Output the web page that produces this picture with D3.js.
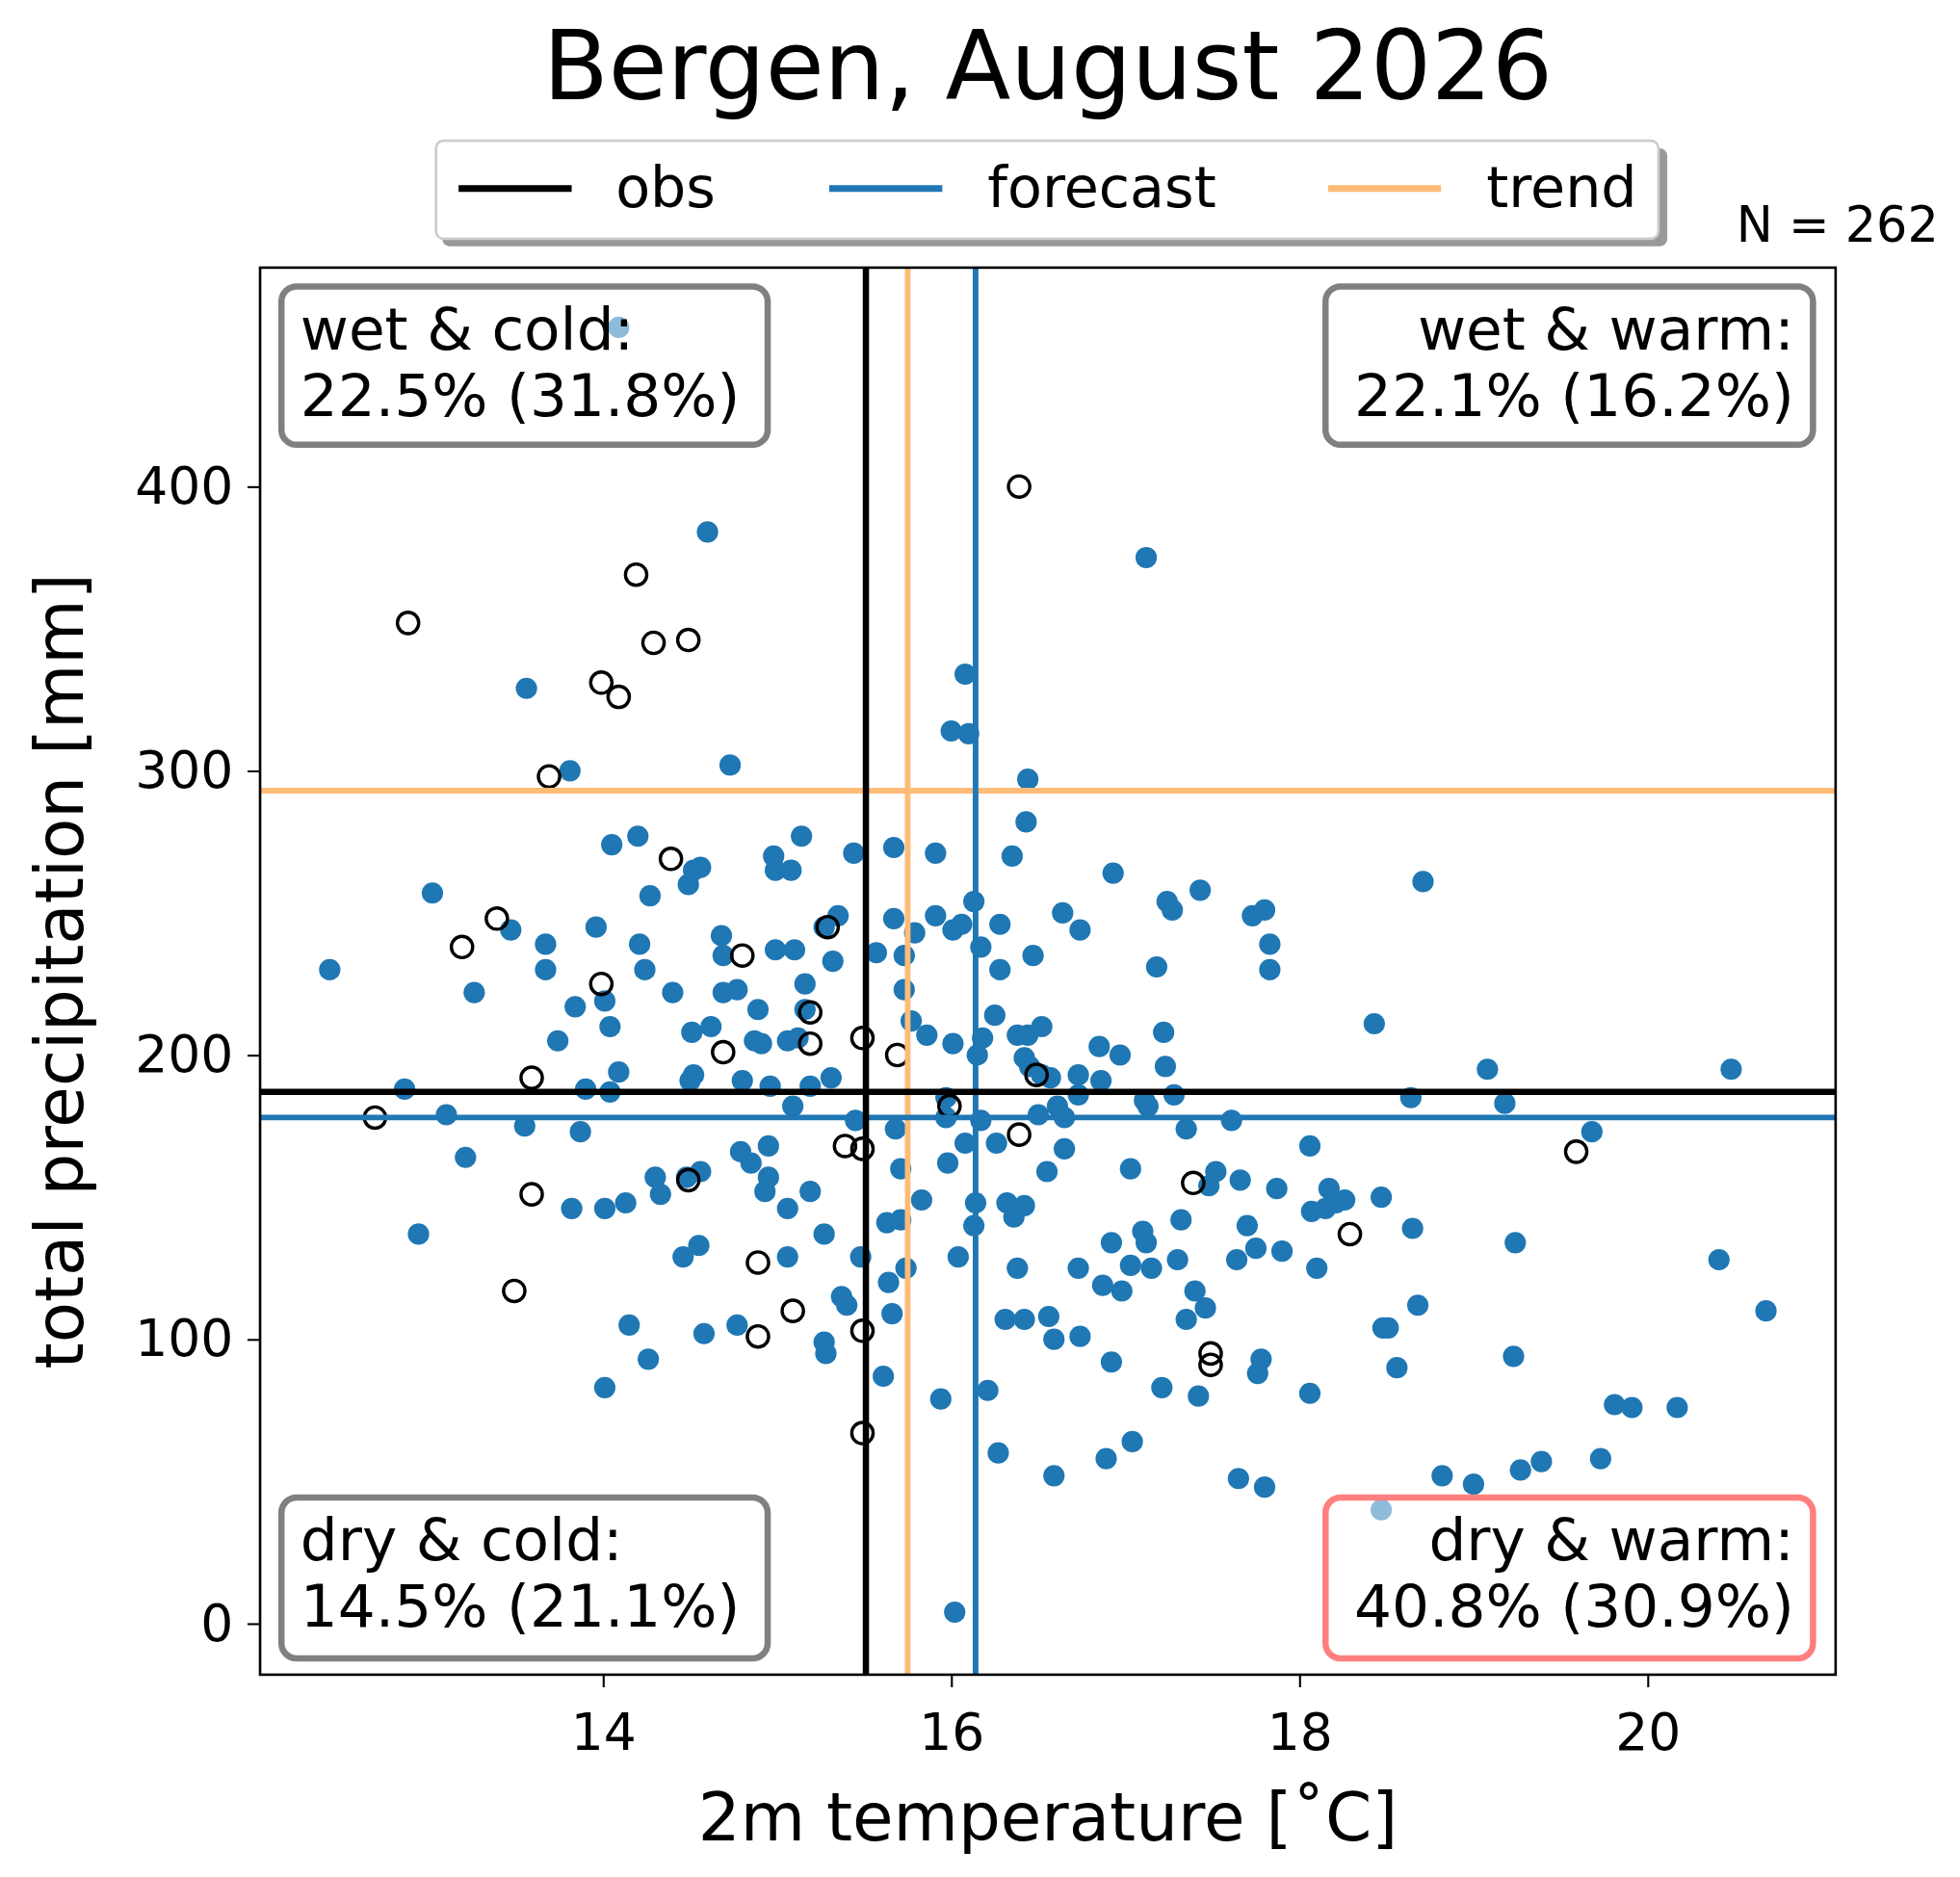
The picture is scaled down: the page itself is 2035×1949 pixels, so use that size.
<!DOCTYPE html>
<html><head><meta charset="utf-8">
<script src="https://cdn.jsdelivr.net/npm/d3@7"></script>
<style>body{margin:0;background:#fff}text{font-family:"DejaVu Sans",sans-serif}</style>
</head><body><svg id="c" width="2035" height="1949" viewBox="0 0 1560 1494"></svg>
<script>
const fcT=[12.43,12.86,12.94,13.02,13.10,13.21,13.26,13.47,13.55,13.56,13.67,13.67,13.74,13.81,13.82,13.84,13.87,13.90,13.96,14.01,14.01,14.01,14.04,14.04,14.05,14.09,14.13,14.15,14.20,14.21,14.24,14.27,14.26,14.30,14.33,14.40,14.48,14.46,14.49,14.51,14.50,14.52,14.52,14.56,14.56,14.55,14.58,14.60,14.62,14.68,14.69,14.69,14.73,14.77,14.77,14.79,14.80,14.85,14.87,14.89,14.91,14.93,14.95,14.95,14.96,14.98,14.99,14.99,15.06,15.06,15.06,15.08,15.09,15.10,15.12,15.14,15.16,15.16,15.19,15.19,15.27,15.27,15.27,15.28,15.31,15.32,15.35,15.37,15.40,15.44,15.45,15.48,15.57,15.61,15.63,15.64,15.66,15.67,15.67,15.68,15.71,15.71,15.73,15.73,15.74,15.77,15.79,15.83,15.86,15.91,15.91,15.94,15.97,15.97,15.98,16.00,16.01,16.01,16.02,16.04,16.06,16.08,16.08,16.10,16.13,16.13,16.14,16.15,16.17,16.17,16.18,16.21,16.25,16.26,16.27,16.28,16.28,16.31,16.32,16.35,16.36,16.38,16.38,16.42,16.42,16.42,16.43,16.44,16.44,16.45,16.47,16.50,16.52,16.52,16.55,16.56,16.57,16.59,16.59,16.61,16.64,16.65,16.65,16.73,16.74,16.74,16.73,16.73,16.85,16.86,16.87,16.89,16.92,16.92,16.93,16.97,16.98,17.03,17.03,17.04,17.12,17.10,17.11,17.12,17.13,17.15,17.18,17.21,17.22,17.23,17.24,17.27,17.28,17.30,17.32,17.35,17.35,17.40,17.42,17.43,17.46,17.48,17.52,17.61,17.65,17.64,17.66,17.70,17.73,17.75,17.76,17.78,17.80,17.80,17.83,17.83,17.87,17.90,18.06,18.06,18.07,18.10,18.15,18.17,18.21,18.26,18.43,18.47,18.47,18.48,18.51,18.56,18.64,18.65,18.68,18.71,18.82,19.00,19.08,19.18,19.23,19.24,19.27,19.39,19.68,19.73,19.81,19.91,20.17,20.41,20.48,20.68,14.09];
const fcP=[230,188,137,257,179,164,222,244,175,329,239,230,205,300,146,217,173,188,245,146,219,83,210,187,274,194,148,105,277,239,230,256,93,157,151,222,157,129,260,208,191,193,265,266,159,133,102,384,210,242,222,235,302,105,223,166,191,162,205,216,204,152,168,157,189,270,237,265,129,146,205,265,182,237,206,277,225,216,152,189,245,137,99,95,192,233,249,115,112,271,177,129,236,87,141,120,109,273,248,174,160,142,223,235,125,212,243,149,207,271,249,79,185,178,162,314,244,204,4,129,246,334,169,313,254,140,148,200,238,177,206,82,214,169,60,230,246,107,148,270,143,125,207,107,147,199,282,297,207,196,235,179,193,210,159,108,192,100,52,182,250,178,167,125,101,244,193,186,203,191,119,58,92,134,264,200,117,160,126,64,375,138,184,134,182,125,231,83,208,196,254,251,186,128,142,107,174,117,80,258,111,154,159,177,51,128,156,140,249,132,88,93,48,251,239,230,153,131,168,81,145,125,146,153,148,149,211,150,40,104,104,90,185,139,112,261,52,49,195,183,94,134,54,57,173,58,77,76,76,128,195,110,456];
const obT=[12.69,12.88,13.19,13.39,13.49,13.59,13.59,13.69,13.99,13.99,14.09,14.19,14.29,14.39,14.49,14.49,14.69,14.80,14.89,14.89,15.09,15.19,15.19,15.29,15.39,15.49,15.49,15.49,15.49,15.69,15.99,16.39,16.39,16.49,17.39,17.49,17.49,18.29,19.59];
const obP=[178,352,238,248,117,151,192,298,331,225,326,369,345,269,346,156,201,235,127,101,110,215,204,245,168,167,206,103,67,200,182,400,172,193,155,95,91,137,166];
const meanT={obs:15.51,forecast:16.14,trend:15.75};
const meanP={obs:187,forecast:178,trend:293};
const xTicks=[14,16,18,20], yTicks=[0,100,200,300,400];
const quads=[["wet & cold:","22.5% (31.8%)"],["wet & warm:","22.1% (16.2%)"],["dry & cold:","14.5% (21.1%)"],["dry & warm:","40.8% (30.9%)"]];
const colors={obs:"#000",forecast:"#1f77b4",trend:"#ffbb78"};

const svg=d3.select("#c");
const L=207,R=1461,T=213,B=1333;
const x=d3.scaleLinear().domain([12.03,21.08]).range([L,R]);
const y=d3.scaleLinear().domain([-18,477]).range([B,T]);
svg.append("clipPath").attr("id","cl").append("rect").attr("x",L).attr("y",T).attr("width",R-L).attr("height",B-T);
const g=svg.append("g").attr("clip-path","url(#cl)");
g.selectAll(".f").data(fcT).join("circle").attr("cx",d=>x(d)).attr("cy",(d,i)=>y(fcP[i])).attr("r",8.5).attr("fill",colors.forecast);
g.selectAll(".o").data(obT).join("circle").attr("cx",d=>x(d)).attr("cy",(d,i)=>y(obP[i])).attr("r",8.5).attr("fill","none").attr("stroke","#000").attr("stroke-width",2.6);
["trend","forecast","obs"].forEach(k=>{
 const w=k==="obs"?5:4.5;
 g.append("line").attr("x1",x(meanT[k])).attr("x2",x(meanT[k])).attr("y1",T).attr("y2",B).attr("stroke",colors[k]).attr("stroke-width",w);
 g.append("line").attr("x1",L).attr("x2",R).attr("y1",y(meanP[k])).attr("y2",y(meanP[k])).attr("stroke",colors[k]).attr("stroke-width",w);
});
const qb=[[224,228,611,354,"start"],[1055,228,1443,354,"end"],[224,1192,611,1320,"start"],[1055,1192,1443,1320,"end"]];
qb.forEach((b,i)=>{
 svg.append("rect").attr("x",b[0]).attr("y",b[1]).attr("width",b[2]-b[0]).attr("height",b[3]-b[1]).attr("rx",12)
  .attr("fill","rgba(255,255,255,0.5)").attr("stroke",i===3?"#ff7f7f":"#808080").attr("stroke-width",5);
 const tx=b[4]==="start"?b[0]+15:b[2]-15;
 svg.append("text").attr("x",tx).attr("y",b[1]+50).attr("text-anchor",b[4]).attr("font-size",47).text(quads[i][0]);
 svg.append("text").attr("x",tx).attr("y",b[1]+103).attr("text-anchor",b[4]).attr("font-size",47).text(quads[i][1]);
});
svg.append("rect").attr("x",L).attr("y",T).attr("width",R-L).attr("height",B-T).attr("fill","none").attr("stroke","#000").attr("stroke-width",2);
const xa=svg.append("g").attr("transform",`translate(0,${B})`).call(d3.axisBottom(x).tickValues(xTicks).tickSize(10).tickFormat(d3.format("d")));
const ya=svg.append("g").attr("transform",`translate(${L},0)`).call(d3.axisLeft(y).tickValues(yTicks).tickSize(10).tickFormat(d3.format("d")));
[xa,ya].forEach(a=>{a.select(".domain").remove();a.selectAll("line").attr("stroke-width",1.6);a.selectAll("text").attr("font-size",41).attr("font-family","DejaVu Sans");});
xa.selectAll("text").attr("dy","1.15em");
ya.selectAll("text").attr("dx","-0.2em");
svg.append("text").attr("x",834).attr("y",1465).attr("text-anchor","middle").attr("font-size",53).text("2m temperature [˚C]");
svg.append("text").attr("transform",`translate(66,${(T+B)/2}) rotate(-90)`).attr("text-anchor","middle").attr("font-size",53).text("total precipitation [mm]");
svg.append("text").attr("x",834).attr("y",79).attr("text-anchor","middle").attr("font-size",76).text("Bergen, August 2026");
svg.append("text").attr("x",1543).attr("y",192).attr("text-anchor","end").attr("font-size",39).text("N = 262");
svg.append("rect").attr("x",352).attr("y",118).attr("width",975).attr("height",78).attr("rx",6).attr("fill","#999");
svg.append("rect").attr("x",347).attr("y",112).attr("width",973).attr("height",78).attr("rx",6).attr("fill","#fff").attr("stroke","#ccc").attr("stroke-width",2);
[["obs",365,490],["forecast",660,786],["trend",1057,1183]].forEach(([k,lx,tx])=>{
 svg.append("line").attr("x1",lx).attr("x2",lx+90).attr("y1",150).attr("y2",150).attr("stroke",colors[k]).attr("stroke-width",5.5);
 svg.append("text").attr("x",tx).attr("y",165).attr("font-size",45).text(k);
});
</script></body></html>
